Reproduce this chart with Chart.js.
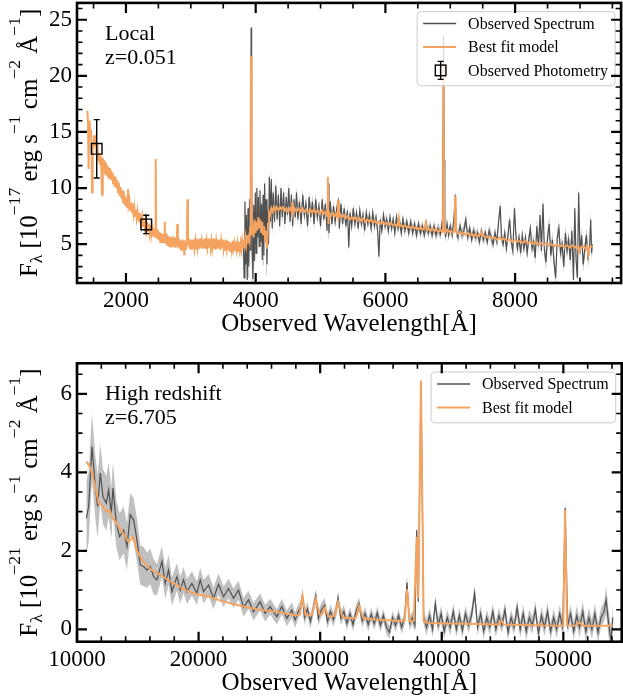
<!DOCTYPE html>
<html>
<head>
<meta charset="utf-8">
<script src="https://cdn.jsdelivr.net/npm/chart.js@4.4.0/dist/chart.umd.min.js"></script>
<style>
  html, body { margin: 0; padding: 0; background: #fff; overflow: hidden; }
  /* the photometry markers make Chart.js keep ~9px clear round the plot, so the top canvas is shifted to compensate */
  #top { position: absolute; left: 0; top: -6px; }
  #bottom { position: absolute; left: 0; top: 340px; }
</style>
</head>
<body>
<canvas id="top" width="630" height="346"></canvas>
<canvas id="bottom" width="623" height="360"></canvas>
<script>
// ---- local galaxy (z=0.051) ----
const localXTicks = [2000, 4000, 6000, 8000];
const localYTicks = [5, 10, 15, 20, 25];

const localWave = [
  3810,3822,3834,3846,3858,3870,3882,3894,3906,3916,
  3924,3930,3937,3946,3958,3970,3982,3994,4006,4018,
  4030,4042,4054,4066,4078,4090,4102,4114,4126,4138,
  4150,4162,4174,4186,4198,4210,4225,4240,4255,4270,
  4290,4310,4330,4350,4370,4390,4410,4430,4450,4470,
  4490,4510,4530,4550,4570,4590,4610,4630,4650,4675,
  4700,4725,4750,4775,4800,4825,4850,4875,4900,4925,
  4950,4975,5000,5025,5050,5075,5100,5118,5130,5150,
  5175,5200,5225,5250,5272,5290,5315,5340,5365,5390,
  5415,5435,5455,5480,5505,5530,5555,5580,5605,5630,
  5655,5680,5705,5730,5755,5780,5805,5830,5855,5880,
  5900,5920,5945,5970,5995,6020,6045,6070,6095,6120,
  6145,6170,6195,6220,6245,6270,6300,6330,6360,6390,
  6420,6450,6480,6510,6540,6570,6600,6630,6660,6690,
  6720,6750,6780,6810,6850,6880,6898,6908,6916,6928,
  6950,6975,7000,7030,7060,7077,7090,7120,7150,7180,
  7210,7240,7270,7300,7330,7360,7390,7420,7450,7480,
  7510,7540,7570,7600,7630,7660,7690,7720,7745,7770,
  7790,7815,7840,7865,7890,7915,7940,7965,7990,8010,
  8035,8060,8085,8110,8135,8160,8185,8210,8235,8260,
  8285,8310,8335,8360,8385,8405,8430,8450,8475,8500,
  8525,8550,8575,8600,8625,8650,8675,8700,8725,8750,
  8775,8800,8825,8850,8875,8900,8920,8940,8960,8980,
  9000,9025,9050,9075,9100,9125,9150,9165,9180,9190
];
const localObs = [
  5.2,2.0,8.8,3.2,7.6,1.8,8.2,3.0,9.0,4.5,
  14.0,24.3,12.0,4.0,1.9,8.5,3.5,9.6,4.2,10.0,
  5.6,9.2,4.8,9.8,5.2,8.6,3.6,9.4,4.0,10.4,
  6.2,9.0,3.2,8.0,5.0,11.0,7.0,10.8,6.4,9.6,
  7.0,10.2,7.2,9.4,6.6,10.0,7.4,9.6,6.8,9.2,
  7.6,10.0,7.0,9.4,6.6,9.0,7.4,9.6,7.2,8.8,
  6.8,9.4,7.6,8.6,6.6,9.2,7.4,8.8,6.8,9.0,
  7.4,8.4,6.6,9.0,7.2,8.6,6.2,10.4,6.0,8.8,
  6.8,8.4,7.0,8.2,8.8,6.4,8.6,6.8,8.2,6.6,
  8.0,4.7,7.8,6.6,8.2,6.8,7.8,6.4,8.0,6.8,
  7.6,6.2,7.8,6.8,7.6,6.4,7.8,6.6,7.4,6.2,
  3.9,7.2,6.2,7.6,6.6,7.2,6.2,7.4,6.4,7.2,
  6.0,7.4,6.4,7.0,6.0,7.2,6.2,7.0,6.0,7.0,
  6.0,6.8,5.8,6.8,6.0,6.6,5.8,6.8,6.0,6.6,
  5.8,6.6,5.8,6.4,5.9,7.2,23.6,12.5,6.4,5.6,
  6.8,5.8,6.6,5.8,7.6,9.4,6.2,5.6,6.6,5.8,
  6.2,7.2,5.6,6.4,5.4,6.2,5.6,6.0,5.2,6.2,
  5.4,6.0,5.2,6.2,5.6,5.0,6.0,5.2,7.0,8.4,
  5.6,5.0,6.0,4.6,5.8,7.2,5.2,4.4,8.2,6.0,
  4.6,5.6,4.2,5.8,4.6,5.6,4.2,5.4,6.4,4.6,
  5.2,3.8,6.6,4.8,7.6,4.4,8.6,4.6,3.4,5.6,
  6.8,4.0,5.4,3.4,2.0,5.6,6.4,4.2,5.0,3.0,
  6.0,4.4,5.4,3.6,6.2,1.8,8.2,3.6,2.0,9.6,
  4.2,5.8,3.2,4.6,5.8,3.6,5.0,7.2,4.2,5.0
];
const localErr = [
  1.0,1.2,1.2,1.0,1.0,1.2,1.0,1.0,1.0,1.0,
  1.0,1.5,1.2,1.0,1.2,1.0,1.0,1.0,1.0,1.0,
  0.9,0.9,0.9,0.9,0.9,0.9,0.9,0.9,0.9,0.9,
  0.9,0.9,0.9,0.9,0.8,0.8,0.8,0.8,0.8,0.8,
  0.6,0.6,0.6,0.6,0.6,0.6,0.6,0.6,0.6,0.6,
  0.6,0.6,0.6,0.6,0.6,0.6,0.6,0.6,0.6,0.6,
  0.6,0.6,0.6,0.6,0.6,0.6,0.6,0.6,0.6,0.6,
  0.5,0.5,0.5,0.5,0.5,0.5,0.5,0.5,0.5,0.5,
  0.5,0.5,0.5,0.5,0.5,0.5,0.5,0.5,0.5,0.5,
  0.5,0.5,0.5,0.5,0.5,0.5,0.5,0.5,0.5,0.5,
  0.5,0.5,0.5,0.5,0.5,0.5,0.5,0.5,0.5,0.5,
  0.5,0.5,0.5,0.5,0.5,0.5,0.5,0.5,0.5,0.5,
  0.5,0.5,0.5,0.5,0.5,0.5,0.5,0.5,0.5,0.5,
  0.5,0.5,0.5,0.5,0.5,0.5,0.5,0.5,0.5,0.5,
  0.5,0.5,0.5,0.5,0.5,0.5,0.5,0.5,0.5,0.5,
  0.5,0.5,0.5,0.5,0.5,0.5,0.5,0.5,0.5,0.5,
  0.5,0.5,0.5,0.5,0.5,0.5,0.5,0.5,0.5,0.5,
  0.5,0.5,0.5,0.5,0.5,0.5,0.5,0.5,0.5,0.5,
  0.5,0.5,0.5,0.5,0.5,0.5,0.5,0.5,0.5,0.5,
  0.5,0.5,0.5,0.5,0.5,0.5,0.5,0.5,0.5,0.5,
  0.7,0.7,0.7,0.7,0.7,0.7,0.7,0.7,0.7,0.7,
  0.7,0.7,0.7,0.7,0.7,0.7,0.7,0.7,0.7,0.7,
  0.7,0.7,0.7,0.7,0.7,0.7,0.7,0.7,0.7,0.7,
  0.7,0.7,0.7,0.7,0.7,0.7,0.7,0.7,0.7,0.7
];

const localModelWave = [
  1405,1415,1424,1432,1441,1450,1460,1468,1477,1486,
  1498,1510,1522,1534,1546,1560,1572,1584,1595,1608,
  1620,1631,1642,1652,1665,1678,1690,1702,1715,1728,
  1740,1752,1765,1778,1790,1802,1815,1828,1840,1852,
  1865,1878,1890,1903,1915,1928,1940,1953,1965,1978,
  1990,2003,2015,2024,2031,2040,2052,2065,2078,2090,
  2102,2115,2127,2140,2152,2165,2178,2190,2202,2215,
  2228,2240,2252,2265,2278,2290,2302,2315,2328,2340,
  2352,2365,2378,2390,2402,2415,2428,2440,2452,2458,
  2465,2478,2490,2502,2515,2528,2540,2552,2565,2578,
  2590,2598,2606,2618,2630,2642,2655,2668,2680,2692,
  2705,2718,2730,2742,2755,2768,2780,2792,2800,2812,
  2825,2838,2850,2862,2875,2888,2900,2912,2924,2940,
  2948,2956,2968,2980,2992,3005,3018,3030,3042,3055,
  3068,3080,3092,3105,3118,3130,3142,3155,3168,3180,
  3192,3205,3218,3230,3242,3255,3268,3280,3292,3305,
  3318,3330,3342,3355,3368,3380,3392,3405,3418,3430,
  3442,3455,3468,3480,3492,3505,3518,3530,3542,3555,
  3568,3580,3592,3605,3618,3630,3642,3655,3668,3680,
  3692,3705,3718,3730,3742,3755,3768,3780,3792,3805,
  3818,3830,3842,3855,3868,3880,3895,3905,3915,3922,
  3928,3934,3942,3955,3968,3980,3995,4010,4025,4040,
  4055,4070,4085,4100,4115,4130,4145,4160,4175,4190,
  4205,4220,4240,4260,4280,4300,4325,4350,4375,4400,
  4425,4450,4475,4500,4530,4555,4565,4575,4600,4630,
  4660,4690,4720,4750,4780,4810,4840,4870,4900,4930,
  4960,4990,5020,5050,5080,5100,5112,5122,5135,5160,
  5190,5220,5245,5262,5272,5282,5300,5330,5360,5390,
  5420,5450,5480,5510,5540,5570,5600,5630,5660,5690,
  5720,5750,5780,5810,5840,5870,5900,5930,5960,5990,
  6020,6050,6080,6110,6140,6170,6190,6205,6215,6240,
  6270,6300,6330,6360,6390,6420,6450,6480,6510,6540,
  6570,6600,6622,6640,6670,6700,6730,6760,6790,6820,
  6850,6875,6888,6897,6906,6920,6950,6980,7010,7040,
  7068,7074,7082,7090,7120,7150,7180,7210,7240,7270,
  7300,7330,7360,7390,7420,7450,7480,7495,7520,7560,
  7600,7640,7680,7720,7760,7800,7840,7880,7920,7960,
  8000,8040,8080,8120,8160,8200,8240,8280,8320,8360,
  8400,8440,8480,8520,8560,8600,8640,8680,8720,8760,
  8800,8840,8880,8920,8960,8990,9010,9050,9090,9110,
  9128,9145,9170,9195
];
const localModel = [
  16.9,15.8,11.7,15.6,16.0,14.6,15.2,14.2,9.6,14.0,
  13.5,14.7,13.7,14.7,13.1,13.9,12.5,13.1,12.1,12.9,
  11.7,9.4,12.7,11.7,12.5,11.3,12.3,11.1,12.0,10.9,
  11.8,10.8,11.6,10.7,11.4,10.4,11.1,10.1,11.0,10.0,
  10.7,9.6,10.5,9.3,10.1,9.1,9.8,8.7,9.7,8.5,
  9.3,8.4,9.1,8.3,9.9,8.5,8.9,8.0,8.7,7.8,
  8.5,7.7,8.3,7.5,8.1,7.3,7.9,7.1,7.8,6.9,
  7.6,6.8,7.4,6.6,7.3,6.5,7.1,6.3,7.0,6.2,
  6.8,6.0,6.7,5.9,6.5,5.7,6.4,5.6,6.3,12.6,
  6.1,5.5,6.3,5.4,6.1,5.2,6.0,5.1,5.9,5.1,
  5.8,7.0,5.1,5.9,4.9,5.7,4.8,5.7,4.8,5.6,
  4.7,5.7,4.8,5.6,4.7,5.5,4.7,6.8,4.8,5.5,
  4.6,5.4,4.5,5.3,4.5,5.4,4.0,5.3,4.5,5.4,
  9.0,4.9,5.5,4.6,5.4,4.6,5.4,4.7,5.4,4.6,
  5.3,4.6,5.5,4.7,5.4,4.6,5.5,4.7,5.3,4.6,
  5.4,4.7,5.5,4.6,5.3,4.7,5.5,4.7,5.4,4.6,
  5.3,4.7,5.5,4.6,5.4,4.5,5.3,4.7,5.4,4.6,
  5.4,4.5,5.3,4.7,5.4,4.6,5.3,4.5,5.4,4.6,
  5.3,4.5,5.2,4.4,5.1,4.5,5.3,4.6,5.1,4.4,
  5.2,4.5,5.1,4.4,5.2,4.5,5.1,4.5,5.3,4.7,
  5.4,4.9,5.6,5.0,5.8,5.1,5.6,5.3,6.5,14.0,
  21.8,12.0,5.8,6.6,5.6,7.2,6.0,7.0,6.2,7.4,
  6.4,7.2,6.0,7.0,5.8,6.6,5.6,6.2,4.6,6.8,
  7.8,7.6,8.2,7.9,8.3,8.0,8.3,8.0,8.3,8.1,
  8.3,8.0,8.2,7.9,8.2,7.9,8.7,7.7,8.2,7.9,
  8.2,7.9,8.2,7.9,8.1,7.8,8.1,7.8,8.1,7.8,
  8.0,7.7,8.0,7.7,7.9,7.5,11.0,6.8,7.8,7.5,
  7.8,7.5,7.7,7.4,8.9,7.4,7.7,7.4,7.6,7.3,
  7.5,7.2,7.4,7.2,7.4,7.1,7.3,7.1,7.3,7.0,
  7.2,7.0,7.2,6.9,7.1,6.9,7.0,6.8,7.0,6.8,
  6.9,6.7,6.9,6.7,6.8,6.6,6.7,7.3,6.6,6.7,
  6.5,6.7,6.5,6.6,6.4,6.6,6.4,6.5,6.3,6.5,
  6.3,6.4,6.9,6.2,6.4,6.2,6.4,6.2,6.3,6.1,
  6.3,6.1,6.2,21.0,6.6,6.0,6.3,6.1,6.2,6.0,
  6.2,9.3,9.0,6.1,5.9,6.1,5.9,6.0,5.8,6.0,
  5.8,5.9,5.7,5.9,5.7,5.8,6.1,5.7,5.7,5.6,
  5.7,5.5,5.6,5.4,5.6,5.4,5.5,5.3,5.4,5.2,
  5.4,5.2,5.3,5.1,5.3,5.1,5.2,5.0,5.2,5.0,
  5.1,4.9,5.1,4.9,5.0,4.8,5.0,4.8,4.9,4.7,
  4.9,4.7,4.9,4.7,4.8,4.3,4.7,4.8,4.6,4.8,
  4.0,4.7,4.8,4.75
];

const photWave = [1549, 2312];
const photFlux = [13.5, 6.76];
const photErr = [2.6, 0.82];

// ---- high redshift galaxy (z=6.705) ----
const highXTicks = [10000, 20000, 30000, 40000, 50000];
const highYTicks = [0, 2, 4, 6];

const highWave = [
  10767,10959,11233,11506,11698,11917,12136,12410,12602,12821,
  12958,13232,13506,13835,14109,14382,14656,14930,15204,15478,
  15752,16026,16300,16574,16984,17258,17532,17806,18217,18491,
  18765,19039,19450,19860,20134,20408,20819,21230,21641,22052,
  22462,22873,23284,23695,24106,24517,25065,25475,25886,26434,
  26845,27256,27666,27940,28200,28450,28545,28700,28950,29200,
  29450,29640,29850,30100,30380,30600,30850,31100,31350,31470,
  31700,31950,32200,32450,32700,32950,33200,33450,33700,33950,
  34200,34450,34700,34950,35200,35450,35700,35950,36200,36450,
  36700,36950,37140,37350,37600,37800,37940,38070,38290,38510,
  38750,39000,39250,39470,39700,39950,40200,40450,40700,40950,
  41200,41450,41700,41950,42200,42450,42700,42950,43200,43450,
  43700,43950,44200,44450,44700,44950,45200,45450,45700,45950,
  46200,46450,46700,46950,47200,47450,47700,47950,48200,48450,
  48700,48950,49200,49450,49700,49950,50150,50350,50600,50850,
  51100,51330,51600,51850,52100,52350,52600,52850,53100,53350,
  53520,53700,53930,54070
];
const highObs = [
  2.83,3.13,4.66,3.64,3.13,3.98,3.38,3.21,3.55,2.96,
  3.60,2.70,2.36,2.53,2.11,2.92,2.79,2.28,1.64,1.60,
  1.51,1.60,1.34,1.26,1.73,1.17,1.51,0.96,1.34,1.00,
  1.26,0.96,1.17,0.92,1.26,0.96,1.13,0.79,1.15,0.83,
  1.04,0.79,1.00,0.56,0.75,0.45,0.70,0.41,0.58,0.32,
  0.58,0.28,0.49,0.24,0.45,0.60,0.88,0.30,0.52,0.20,
  0.55,0.85,0.28,0.50,0.62,0.20,0.45,0.25,0.55,0.80,
  0.28,0.45,0.15,0.40,0.12,0.45,0.65,0.22,0.40,0.12,
  0.38,0.15,0.42,0.10,0.35,0.05,-0.08,0.30,0.10,0.35,
  0.05,0.30,1.19,0.15,0.30,0.10,2.53,0.70,6.30,0.30,
  0.05,0.35,0.00,0.66,0.10,0.40,-0.05,0.30,0.05,0.45,
  0.00,0.35,-0.02,0.40,0.10,0.35,0.92,0.05,0.40,-0.05,
  0.30,0.05,0.45,0.00,0.35,0.10,0.50,-0.08,0.30,0.05,
  0.55,0.00,0.40,-0.05,0.30,0.10,0.50,-0.10,0.35,0.05,
  0.45,-0.05,0.30,0.00,0.40,0.05,3.10,0.10,0.40,-0.05,
  0.35,0.05,0.45,-0.05,0.30,0.00,0.40,-0.08,0.30,0.45,
  0.75,0.20,-0.30,0.30
];
const highErr = [
  0.95,0.90,0.85,0.80,0.80,0.75,0.70,0.70,0.70,0.65,
  0.65,0.60,0.60,0.60,0.60,0.55,0.55,0.55,0.50,0.50,
  0.45,0.45,0.45,0.40,0.40,0.40,0.38,0.36,0.35,0.34,
  0.33,0.32,0.31,0.30,0.30,0.30,0.28,0.28,0.27,0.26,
  0.25,0.25,0.24,0.24,0.23,0.22,0.22,0.21,0.20,0.20,
  0.20,0.20,0.20,0.20,0.18,0.18,0.18,0.18,0.18,0.18,
  0.18,0.18,0.18,0.18,0.18,0.18,0.18,0.18,0.18,0.18,
  0.17,0.17,0.17,0.17,0.17,0.17,0.17,0.17,0.17,0.17,
  0.17,0.17,0.17,0.17,0.17,0.17,0.17,0.17,0.17,0.17,
  0.17,0.17,0.20,0.17,0.17,0.17,0.20,0.17,0.20,0.17,
  0.20,0.20,0.20,0.20,0.20,0.20,0.20,0.20,0.20,0.20,
  0.20,0.20,0.20,0.20,0.20,0.20,0.20,0.20,0.20,0.20,
  0.20,0.20,0.20,0.20,0.20,0.20,0.20,0.20,0.20,0.20,
  0.22,0.22,0.22,0.22,0.22,0.22,0.22,0.22,0.22,0.22,
  0.22,0.22,0.22,0.22,0.22,0.22,0.25,0.22,0.22,0.22,
  0.25,0.25,0.25,0.25,0.25,0.25,0.25,0.25,0.25,0.25,
  0.35,0.35,0.35,0.35
];

const highModelWave = [
  10765,11095,11505,11780,12060,12250,12410,12600,12740,12900,
  13150,13400,13700,14000,14250,14450,14600,14750,14880,15200,
  15480,16000,16500,16850,17500,18220,18900,19590,20300,20950,
  21800,22700,23700,25000,26430,27940,28300,28545,28800,29300,
  29640,29950,30150,30380,30700,31200,31470,31850,32700,32950,
  33200,33550,34500,35500,36500,36950,37140,37350,37700,37940,
  38070,38290,38510,38900,40000,42000,44700,44900,45100,47000,
  48000,48150,48300,49900,50000,50150,50300,51000,51330,51600,
  52500,53500,54070
];
const highModel = [
  4.28,4.13,3.64,3.21,3.17,3.05,3.00,3.05,3.00,2.85,
  2.75,2.62,2.49,2.35,2.23,2.30,2.36,2.20,2.02,1.85,
  1.72,1.55,1.44,1.39,1.25,1.13,1.00,0.92,0.87,0.83,
  0.73,0.66,0.58,0.50,0.45,0.36,0.36,0.85,0.36,0.36,
  0.77,0.38,0.38,0.55,0.32,0.34,0.70,0.30,0.28,0.30,
  0.59,0.28,0.25,0.23,0.21,0.21,1.02,0.20,0.22,2.36,
  0.79,6.34,0.20,0.16,0.15,0.14,0.12,0.22,0.12,0.11,
  0.10,0.14,0.10,0.09,0.10,3.04,0.10,0.09,0.18,0.09,
  0.09,0.09,0.10
];

const FONT = "'Liberation Serif', 'Times New Roman', serif";
const OBS_COLOR = '#505050';
const BAND_COLOR = '#c0c0c0';
const MODEL_COLOR = '#f4a460';

function pts(xs, ys) {
  return xs.map((x, i) => ({x: x, y: ys[i]}));
}

function drawTicks(ctx, a, scale, horizontal, minor, majors) {
  const start = Math.ceil(scale.min / minor - 1e-6);
  const end = Math.floor(scale.max / minor + 1e-6);
  for (let k = start; k <= end; k++) {
    const v = k * minor;
    const major = majors.some(m => Math.abs(m - v) < minor * 1e-3);
    const len = major ? 10 : 5.5;
    const p = scale.getPixelForValue(v);
    ctx.lineWidth = major ? 2.2 : 1.6;
    ctx.beginPath();
    if (horizontal) {
      ctx.moveTo(p, a.bottom); ctx.lineTo(p, a.bottom - len);
      ctx.moveTo(p, a.top); ctx.lineTo(p, a.top + len);
    } else {
      ctx.moveTo(a.left, p); ctx.lineTo(a.left + len, p);
      ctx.moveTo(a.right, p); ctx.lineTo(a.right - len, p);
    }
    ctx.stroke();
  }
}

function drawYTitle(ctx, cx, cy, expo) {
  const big = 25, small = 17.5, up = -17, down = 5;
  const parts = [
    ['F', big, 0], ['\u03bb', small, down], [' [10', big, 0], ['\u2212' + expo, small, up],
    [' erg s', big, 0], ['\u22121', small, up], [' cm', big, 0], ['\u22122', small, up],
    [' \u00c5', big, 0], ['\u22121', small, up], [']', big, 0]
  ];
  let total = 0;
  parts.forEach(p => { ctx.font = p[1] + 'px ' + FONT; p.push(ctx.measureText(p[0]).width); total += p[3]; });
  ctx.save();
  ctx.translate(cx, cy);
  ctx.rotate(-Math.PI / 2);
  ctx.textAlign = 'left';
  ctx.textBaseline = 'alphabetic';
  let x = -total / 2;
  parts.forEach(p => {
    ctx.font = p[1] + 'px ' + FONT;
    ctx.fillText(p[0], x, p[2]);
    x += p[3];
  });
  ctx.restore();
}

function drawLegend(ctx, a, items) {
  ctx.font = '16px ' + FONT;
  const textW = Math.max(...items.map(it => ctx.measureText(it.text).width));
  const rowH = 23.4;
  const w = 51 + textW + 7, h = items.length * rowH + 4;
  const bx = a.right - 6 - w, by = a.top + 8.7;
  ctx.beginPath();
  ctx.roundRect(bx, by, w, h, 4);
  ctx.fillStyle = 'rgba(255,255,255,0.8)';
  ctx.fill();
  ctx.strokeStyle = '#cccccc';
  ctx.lineWidth = 1;
  ctx.stroke();
  items.forEach((it, i) => {
    const cy = by + 12 + i * rowH;
    if (it.kind === 'line') {
      ctx.strokeStyle = it.color;
      ctx.lineWidth = it.width;
      ctx.beginPath();
      ctx.moveTo(bx + 6, cy); ctx.lineTo(bx + 39, cy);
      ctx.stroke();
    } else {
      const mx = bx + 23.5;
      ctx.strokeStyle = '#000';
      ctx.lineWidth = 1.4;
      ctx.beginPath();
      ctx.moveTo(mx, cy - 9); ctx.lineTo(mx, cy + 9);
      ctx.moveTo(mx - 3, cy - 9); ctx.lineTo(mx + 3, cy - 9);
      ctx.moveTo(mx - 3, cy + 9); ctx.lineTo(mx + 3, cy + 9);
      ctx.stroke();
      ctx.strokeRect(mx - 5.3, cy - 5.3, 10.6, 10.6);
    }
    ctx.fillStyle = '#000';
    ctx.textAlign = 'left';
    ctx.textBaseline = 'middle';
    ctx.fillText(it.text, bx + 51, cy + 1);
  });
}

function makeDecor(s) {
  return {
    id: 'decor',
    afterDraw(chart) {
      const {ctx, chartArea: a, scales: {x, y}} = chart;
      ctx.save();
      // photometry error bars
      if (s.photWave) {
        ctx.strokeStyle = '#000';
        ctx.lineWidth = 1.4;
        s.photWave.forEach((w, i) => {
          const px = x.getPixelForValue(w);
          const y1 = y.getPixelForValue(s.photFlux[i] + s.photErr[i]);
          const y2 = y.getPixelForValue(s.photFlux[i] - s.photErr[i]);
          ctx.beginPath();
          ctx.moveTo(px, y1); ctx.lineTo(px, y2);
          ctx.moveTo(px - 3, y1); ctx.lineTo(px + 3, y1);
          ctx.moveTo(px - 3, y2); ctx.lineTo(px + 3, y2);
          ctx.stroke();
        });
      }
      // labels in the panel
      ctx.fillStyle = '#000';
      ctx.font = '22px ' + FONT;
      ctx.textAlign = 'left';
      ctx.textBaseline = 'alphabetic';
      ctx.fillText(s.name, a.left + 28, a.top + 37);
      ctx.fillText(s.redshift, a.left + 28, a.top + 61);
      drawLegend(ctx, a, s.legend);
      // inward ticks and frame
      ctx.strokeStyle = '#000';
      drawTicks(ctx, a, x, true, s.xMinor, s.xTicks);
      drawTicks(ctx, a, y, false, s.yMinor, s.yTicks);
      ctx.lineWidth = 2.6;
      ctx.strokeRect(a.left, a.top, a.right - a.left, a.bottom - a.top);
      // axis titles
      ctx.fillStyle = '#000';
      ctx.font = '25px ' + FONT;
      ctx.textAlign = 'center';
      ctx.textBaseline = 'alphabetic';
      ctx.fillText('Observed Wavelength[\u00c5]', (a.left + a.right) / 2, a.bottom + 48);
      drawYTitle(ctx, 37, (a.top + a.bottom) / 2, s.expo);
      ctx.restore();
    }
  };
}

function buildChart(id, s) {
  const lower = s.obs.map((v, i) => v - s.err[i]);
  const upper = s.obs.map((v, i) => v + s.err[i]);
  const datasets = [
    {data: pts(s.modelWave, s.model), borderColor: MODEL_COLOR, borderWidth: 2, order: 1},
    {data: pts(s.wave, s.obs), borderColor: OBS_COLOR, borderWidth: 1.2, order: 2},
    {data: pts(s.wave, lower), borderColor: 'rgba(0,0,0,0)', borderWidth: 0, order: 3},
    {data: pts(s.wave, upper), borderColor: 'rgba(0,0,0,0)', borderWidth: 0,
     backgroundColor: BAND_COLOR, fill: '-1', order: 4}
  ];
  if (s.photWave) {
    datasets.push({
      data: pts(s.photWave, s.photFlux), showLine: false, pointStyle: 'rect',
      pointRadius: 7.5, borderColor: '#000', borderWidth: 1.4,
      backgroundColor: 'rgba(0,0,0,0)', order: 0
    });
  }
  const tickFont = {family: FONT, size: 23};
  return new Chart(document.getElementById(id), {
    type: 'line',
    data: {datasets: datasets},
    options: {
      responsive: false,
      animation: false,
      events: [],
      layout: {padding: s.padding},
      elements: {point: {radius: 0}, line: {tension: 0}},
      plugins: {legend: {display: false}, tooltip: {enabled: false}},
      scales: {
        x: {
          type: 'linear', min: s.xMin, max: s.xMax,
          grid: {display: false, drawTicks: false}, border: {display: false},
          afterBuildTicks: sc => { sc.ticks = s.xTicks.map(v => ({value: v})); },
          afterFit: sc => { sc.height = s.xAxisHeight; sc.paddingLeft = 0; sc.paddingRight = 0; },
          ticks: {autoSkip: false, maxRotation: 0, padding: 4, color: '#000', font: tickFont,
                  callback: v => String(v)}
        },
        y: {
          type: 'linear', min: s.yMin, max: s.yMax,
          grid: {display: false, drawTicks: false}, border: {display: false},
          afterBuildTicks: sc => { sc.ticks = s.yTicks.map(v => ({value: v})); },
          afterFit: sc => { sc.width = 77; sc.paddingTop = 0; sc.paddingBottom = 0; },
          ticks: {autoSkip: false, padding: 5, color: '#000', font: tickFont,
                  callback: v => String(v)}
        }
      }
    },
    plugins: [makeDecor(s)]
  });
}

buildChart('top', {
  wave: localWave, obs: localObs, err: localErr,
  modelWave: localModelWave, model: localModel,
  photWave: photWave, photFlux: photFlux, photErr: photErr,
  xMin: 1245, xMax: 9634, yMin: 1.54, yMax: 26.5,
  xTicks: localXTicks, yTicks: localYTicks, xMinor: 500, yMinor: 1,
  padding: {top: 0, right: 0, left: 0, bottom: 0}, xAxisHeight: 57,
  name: 'Local', redshift: 'z=0.051', expo: '17',
  legend: [
    {kind: 'line', text: 'Observed Spectrum', color: OBS_COLOR, width: 1.5},
    {kind: 'line', text: 'Best fit model', color: MODEL_COLOR, width: 2},
    {kind: 'phot', text: 'Observed Photometry'}
  ]
});

buildChart('bottom', {
  wave: highWave, obs: highObs, err: highErr,
  modelWave: highModelWave, model: highModel,
  xMin: 10000, xMax: 54800, yMin: -0.316, yMax: 6.78,
  xTicks: highXTicks, yTicks: highYTicks, xMinor: 2000, yMinor: 0.5,
  padding: {top: 23.3, right: 1.3, left: 0, bottom: 0}, xAxisHeight: 58.3,
  name: 'High redshift', redshift: 'z=6.705', expo: '21',
  legend: [
    {kind: 'line', text: 'Observed Spectrum', color: OBS_COLOR, width: 1.5},
    {kind: 'line', text: 'Best fit model', color: MODEL_COLOR, width: 2}
  ]
});
</script>
</body>
</html>
